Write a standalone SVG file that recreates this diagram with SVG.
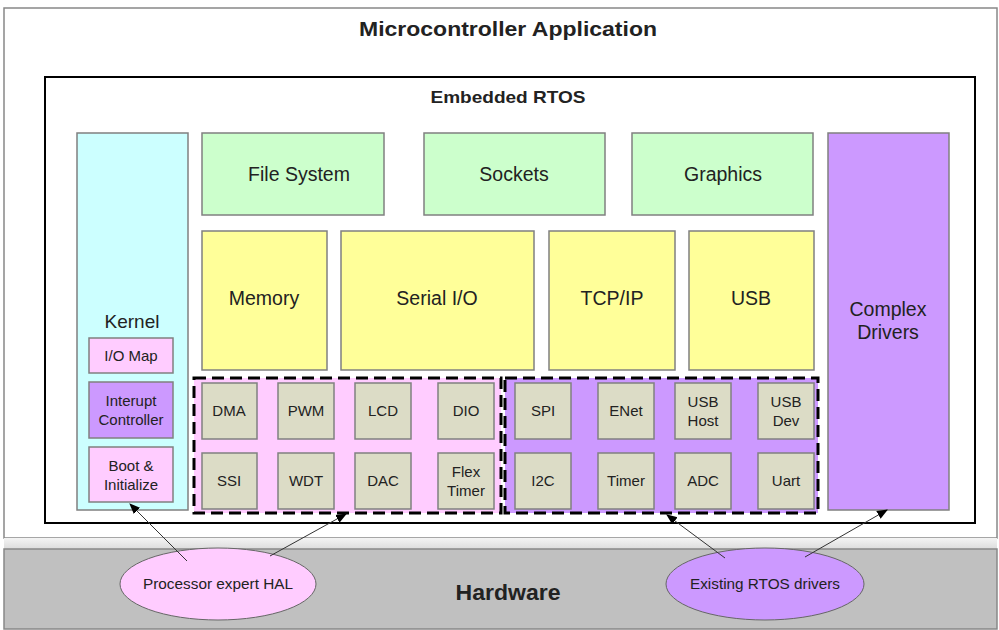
<svg xmlns="http://www.w3.org/2000/svg" width="999" height="630" viewBox="0 0 999 630">
<style>
text{font-family:"Liberation Sans",Arial,sans-serif;fill:#222;text-anchor:middle;dominant-baseline:central}
.b{stroke:#808080;stroke-width:1.5}
.lg{font-size:19.5px}
.sm{font-size:15px}
.hd{font-weight:bold}
.dash{fill:none;stroke:#000;stroke-width:3;stroke-dasharray:12 6}
.g{fill:#dcdcc6}
.conn line{stroke:#333;stroke-width:1}
</style>
<defs>
<marker id="ah" viewBox="0 0 10 10" refX="9" refY="5" markerWidth="11" markerHeight="11" orient="auto" markerUnits="userSpaceOnUse">
<path d="M0,1 L10,5 L0,9 z" fill="#000"/>
</marker>
<linearGradient id="gap" x1="0" y1="0" x2="0" y2="1">
<stop offset="0" stop-color="#f4f4f4"/><stop offset="1" stop-color="#dcdcdc"/>
</linearGradient>
</defs>
<rect x="0" y="0" width="999" height="630" fill="#fff"/>
<g id="app">
<rect x="4" y="8" width="993" height="530" fill="#fff" stroke="#888" stroke-width="1.5"/>
<text x="508" y="28" class="hd" font-size="21" textLength="298" lengthAdjust="spacingAndGlyphs">Microcontroller Application</text>
</g>
<rect x="4" y="538" width="993" height="11" fill="url(#gap)"/>
<g id="hardware">
<rect x="4" y="549" width="993" height="80" fill="#c0c0c0" stroke="#888" stroke-width="1.5"/>
<text x="508" y="592" class="hd" font-size="22" textLength="105" lengthAdjust="spacingAndGlyphs">Hardware</text>
</g>
<g id="rtos">
<rect x="45" y="77" width="930" height="446" fill="#fff" stroke="#000" stroke-width="2"/>
<text x="508" y="97" class="hd" font-size="17" textLength="155" lengthAdjust="spacingAndGlyphs">Embedded RTOS</text>
</g>
<g id="kernel">
<rect x="77" y="133" width="111" height="377" fill="#ccffff" class="b"/>
<text x="132" y="321" font-size="19">Kernel</text>
</g>
<g id="iomap"><rect x="89" y="338" width="84" height="35" fill="#ffccff" class="b"/><text x="131" y="355" class="sm">I/O Map</text></g>
<g id="interupt"><rect x="89" y="382" width="84" height="56" fill="#cc99ff" class="b"/><text x="131" y="400" class="sm">Interupt</text><text x="131" y="419" class="sm">Controller</text></g>
<g id="boot"><rect x="89" y="447" width="84" height="55" fill="#ffccff" class="b"/><text x="131" y="465" class="sm">Boot &amp;</text><text x="131" y="484" class="sm">Initialize</text></g>
<g id="filesystem"><rect x="202" y="133" width="182" height="82" fill="#ccffcc" class="b"/><text x="299" y="174" class="lg">File System</text></g>
<g id="sockets"><rect x="424" y="133" width="181" height="82" fill="#ccffcc" class="b"/><text x="514" y="174" class="lg">Sockets</text></g>
<g id="graphics"><rect x="632" y="133" width="181" height="82" fill="#ccffcc" class="b"/><text x="723" y="174" class="lg">Graphics</text></g>
<g id="complex"><rect x="828" y="133" width="121" height="377" fill="#cc99ff" class="b"/><text x="888" y="309" class="lg">Complex</text><text x="888" y="332" class="lg">Drivers</text></g>
<g id="memory"><rect x="202" y="231" width="125" height="139" fill="#ffff99" class="b"/><text x="264" y="298" class="lg">Memory</text></g>
<g id="serial"><rect x="341" y="231" width="193" height="139" fill="#ffff99" class="b"/><text x="437" y="298" class="lg">Serial I/O</text></g>
<g id="tcpip"><rect x="549" y="231" width="126" height="139" fill="#ffff99" class="b"/><text x="612" y="298" class="lg">TCP/IP</text></g>
<g id="usb"><rect x="689" y="231" width="125" height="139" fill="#ffff99" class="b"/><text x="751" y="298" class="lg">USB</text></g>
<g id="halgroup">
<rect x="194" y="378" width="307" height="135" fill="#ffccff"/>
<rect x="194" y="378" width="307" height="135" class="dash"/>
</g>
<g id="drvgroup">
<rect x="505" y="378" width="313" height="135" fill="#cc99ff"/>
<rect x="505" y="378" width="313" height="135" class="dash"/>
</g>
<g id="dma"><rect x="202" y="383" width="55" height="56" class="g b"/><text x="229" y="410" class="sm">DMA</text></g>
<g id="pwm"><rect x="278" y="383" width="56" height="56" class="g b"/><text x="306" y="410" class="sm">PWM</text></g>
<g id="lcd"><rect x="355" y="383" width="56" height="56" class="g b"/><text x="383" y="410" class="sm">LCD</text></g>
<g id="dio"><rect x="438" y="383" width="56" height="56" class="g b"/><text x="466" y="410" class="sm">DIO</text></g>
<g id="ssi"><rect x="202" y="453" width="55" height="56" class="g b"/><text x="229" y="480" class="sm">SSI</text></g>
<g id="wdt"><rect x="278" y="453" width="56" height="56" class="g b"/><text x="306" y="480" class="sm">WDT</text></g>
<g id="dac"><rect x="355" y="453" width="56" height="56" class="g b"/><text x="383" y="480" class="sm">DAC</text></g>
<g id="flex"><rect x="438" y="453" width="56" height="56" class="g b"/><text x="466" y="471" class="sm">Flex</text><text x="466" y="490" class="sm">Timer</text></g>
<g id="spi"><rect x="515" y="383" width="56" height="56" class="g b"/><text x="543" y="410" class="sm">SPI</text></g>
<g id="enet"><rect x="598" y="383" width="56" height="56" class="g b"/><text x="626" y="410" class="sm">ENet</text></g>
<g id="usbhost"><rect x="675" y="383" width="56" height="56" class="g b"/><text x="703" y="401" class="sm">USB</text><text x="703" y="420" class="sm">Host</text></g>
<g id="usbdev"><rect x="758" y="383" width="56" height="56" class="g b"/><text x="786" y="401" class="sm">USB</text><text x="786" y="420" class="sm">Dev</text></g>
<g id="i2c"><rect x="515" y="453" width="56" height="56" class="g b"/><text x="543" y="480" class="sm">I2C</text></g>
<g id="timer"><rect x="598" y="453" width="56" height="56" class="g b"/><text x="626" y="480" class="sm">Timer</text></g>
<g id="adc"><rect x="675" y="453" width="56" height="56" class="g b"/><text x="703" y="480" class="sm">ADC</text></g>
<g id="uart"><rect x="758" y="453" width="56" height="56" class="g b"/><text x="786" y="480" class="sm">Uart</text></g>
<g id="hal"><ellipse cx="218" cy="584" rx="98" ry="36" fill="#ffccff" stroke="#666" stroke-width="1"/><text x="218" y="583" font-size="15" textLength="150" lengthAdjust="spacingAndGlyphs">Processor expert HAL</text></g>
<g id="existing"><ellipse cx="765" cy="584" rx="99" ry="36" fill="#cc99ff" stroke="#666" stroke-width="1"/><text x="765" y="583" font-size="15" textLength="150" lengthAdjust="spacingAndGlyphs">Existing RTOS drivers</text></g>
<g id="connectors" class="conn">
<line x1="187" y1="561" x2="130" y2="504" marker-end="url(#ah)"/>
<line x1="270" y1="556" x2="346" y2="514" marker-end="url(#ah)"/>
<line x1="725" y1="558" x2="667" y2="515" marker-end="url(#ah)"/>
<line x1="805" y1="557" x2="887" y2="510" marker-end="url(#ah)"/>
</g>
</svg>
